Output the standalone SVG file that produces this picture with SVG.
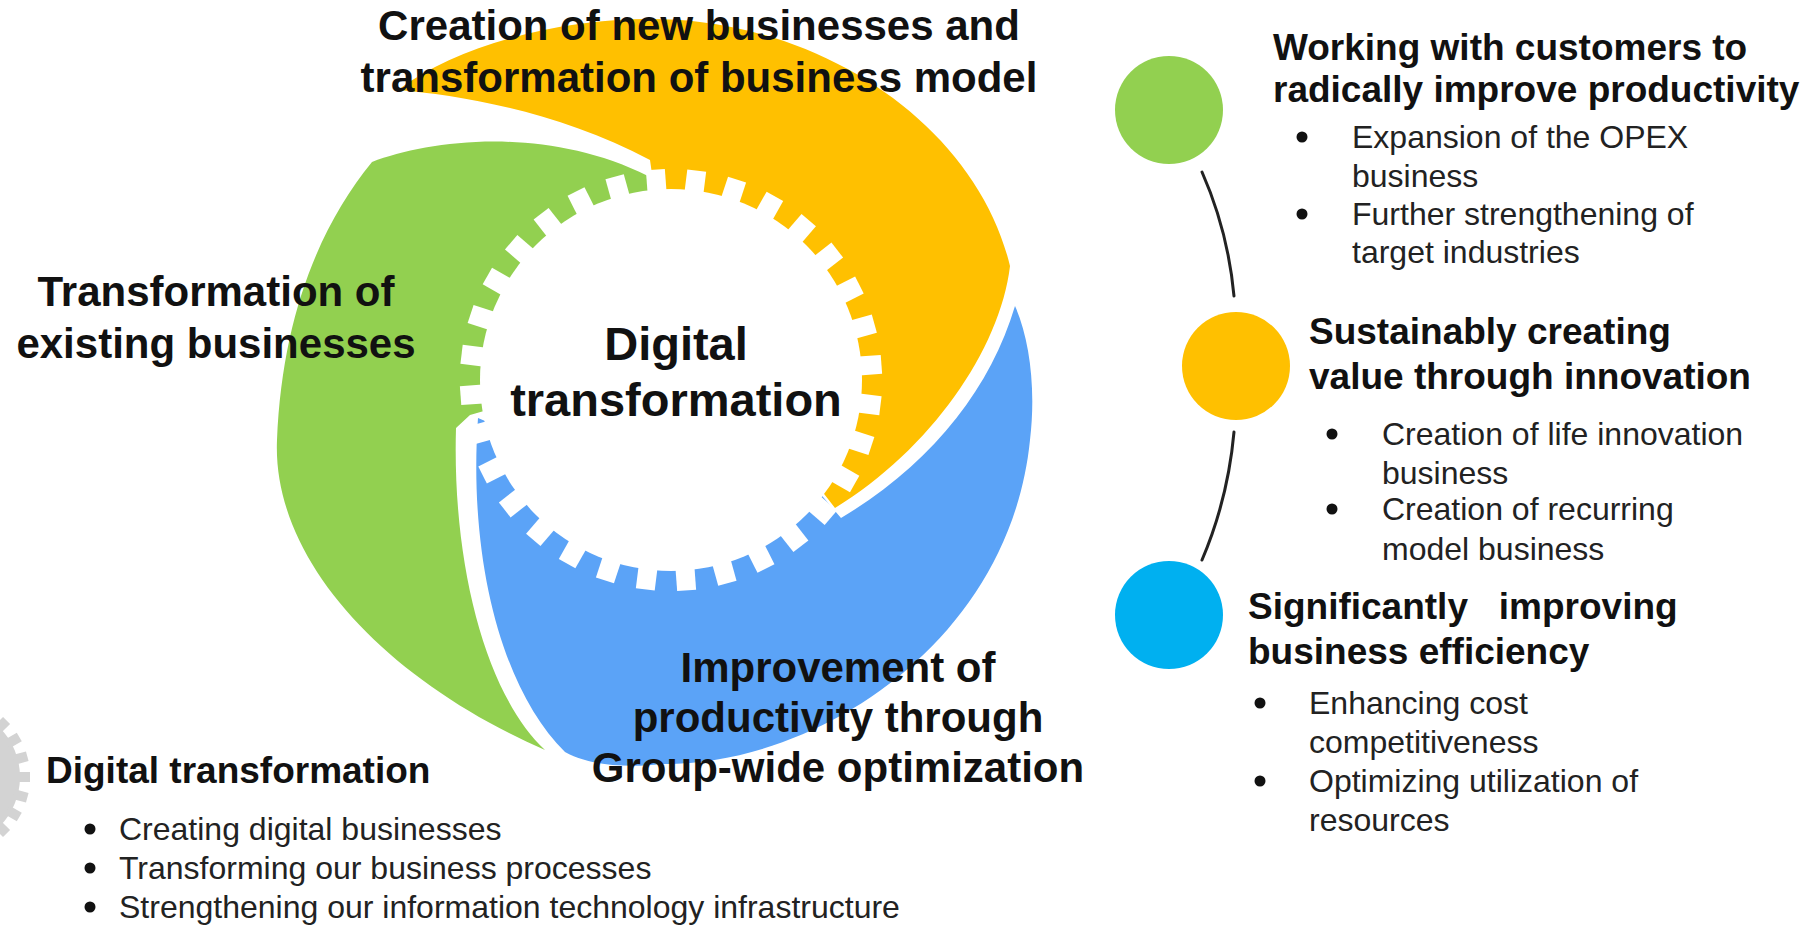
<svg xmlns="http://www.w3.org/2000/svg" xmlns:xlink="http://www.w3.org/1999/xlink" width="1812" height="925" viewBox="0 0 1812 925">
  <style>
    .h { font-family: "Liberation Sans", Arial, sans-serif; font-weight: bold; fill: #111; }
    .b { font-family: "Liberation Sans", Arial, sans-serif; font-weight: normal; fill: #222; font-size: 32px; }
    .dot { fill: #111; }
    .link { fill: none; stroke: #222; stroke-width: 3; stroke-linecap: round; }
  </style>
  <defs>
    <rect id="tooth" x="-9.5" y="-211" width="19" height="26" fill="#fff"/>
    <rect id="grayTooth" x="-5" y="-80" width="10" height="14" fill="#d3d3d3"/>
  </defs>
  <rect width="1812" height="925" fill="#fff"/>

  <!-- partial grey gear at the left edge -->
  <g id="edge-gear" transform="translate(-50,777)">
    <circle r="70" fill="#d3d3d3"/>
    <use xlink:href="#grayTooth" transform="rotate(30)"/>
    <use xlink:href="#grayTooth" transform="rotate(45)"/>
    <use xlink:href="#grayTooth" transform="rotate(60)"/>
    <use xlink:href="#grayTooth" transform="rotate(75)"/>
    <use xlink:href="#grayTooth" transform="rotate(90)"/>
    <use xlink:href="#grayTooth" transform="rotate(105)"/>
    <use xlink:href="#grayTooth" transform="rotate(120)"/>
    <use xlink:href="#grayTooth" transform="rotate(135)"/>
    <use xlink:href="#grayTooth" transform="rotate(150)"/>
  </g>

  <!-- swirl segments -->
  <g id="seg-existing">
    <path fill="#92D050" d="M372,162 C430,140 545,125 648,176 L660,250 L540,395 L470,415 L456,428 C452,565 486,695 545,750 C385,680 272,560 277,440 C282,320 318,228 372,162 Z"/>
  </g>
  <g id="seg-new">
    <path fill="#FFC000" d="M1010,266 C1000,350 930,450 835,508 L790,450 L700,300 L660,230 L650,160 C560,112 460,95 398,90 C470,36 600,10 700,22 C850,40 980,140 1010,266 Z"/>
  </g>
  <g id="seg-productivity">
    <path fill="#5BA3F7" d="M530,440 L478,418 C468,560 502,690 565,752 C590,766 630,768 662,764 C820,765 1010,640 1030,440 C1036,390 1030,340 1015,306 C990,390 930,465 841,518 L800,470 L560,440 Z"/>
  </g>

  <!-- central gear -->
  <g id="gear">
    <circle cx="671" cy="380" r="191" fill="#fff"/>
    <g transform="translate(671,380)">
      <use xlink:href="#tooth" transform="rotate(7)"/>
      <use xlink:href="#tooth" transform="rotate(18.25)"/>
      <use xlink:href="#tooth" transform="rotate(29.5)"/>
      <use xlink:href="#tooth" transform="rotate(40.75)"/>
      <use xlink:href="#tooth" transform="rotate(52)"/>
      <use xlink:href="#tooth" transform="rotate(63.25)"/>
      <use xlink:href="#tooth" transform="rotate(74.5)"/>
      <use xlink:href="#tooth" transform="rotate(85.75)"/>
      <use xlink:href="#tooth" transform="rotate(97)"/>
      <use xlink:href="#tooth" transform="rotate(108.25)"/>
      <use xlink:href="#tooth" transform="rotate(119.5)"/>
      <use xlink:href="#tooth" transform="rotate(130.75)"/>
      <use xlink:href="#tooth" transform="rotate(142)"/>
      <use xlink:href="#tooth" transform="rotate(153.25)"/>
      <use xlink:href="#tooth" transform="rotate(164.5)"/>
      <use xlink:href="#tooth" transform="rotate(175.75)"/>
      <use xlink:href="#tooth" transform="rotate(187)"/>
      <use xlink:href="#tooth" transform="rotate(198.25)"/>
      <use xlink:href="#tooth" transform="rotate(209.5)"/>
      <use xlink:href="#tooth" transform="rotate(220.75)"/>
      <use xlink:href="#tooth" transform="rotate(232)"/>
      <use xlink:href="#tooth" transform="rotate(243.25)"/>
      <use xlink:href="#tooth" transform="rotate(254.5)"/>
      <use xlink:href="#tooth" transform="rotate(265.75)"/>
      <use xlink:href="#tooth" transform="rotate(277)"/>
      <use xlink:href="#tooth" transform="rotate(288.25)"/>
      <use xlink:href="#tooth" transform="rotate(299.5)"/>
      <use xlink:href="#tooth" transform="rotate(310.75)"/>
      <use xlink:href="#tooth" transform="rotate(322)"/>
      <use xlink:href="#tooth" transform="rotate(333.25)"/>
      <use xlink:href="#tooth" transform="rotate(344.5)"/>
      <use xlink:href="#tooth" transform="rotate(355.75)"/>
    </g>
    <text class="h" font-size="47" text-anchor="middle" x="676" y="360">Digital</text>
    <text class="h" font-size="47" text-anchor="middle" x="676" y="416">transformation</text>
  </g>

  <!-- segment labels -->
  <g id="label-new">
    <text class="h" font-size="42" text-anchor="middle" x="699" y="40">Creation of new businesses and</text>
    <text class="h" font-size="42" text-anchor="middle" x="699" y="92">transformation of business model</text>
  </g>
  <g id="label-existing">
    <text class="h" font-size="42" text-anchor="middle" x="216" y="306">Transformation of</text>
    <text class="h" font-size="42" text-anchor="middle" x="216" y="358">existing businesses</text>
  </g>
  <g id="label-productivity">
    <text class="h" font-size="42" text-anchor="middle" x="838" y="682">Improvement of</text>
    <text class="h" font-size="42" text-anchor="middle" x="838" y="732">productivity through</text>
    <text class="h" font-size="42" text-anchor="middle" x="838" y="782">Group-wide optimization</text>
  </g>

  <!-- digital transformation list -->
  <g id="dx-list">
    <text class="h" font-size="37" x="46" y="783">Digital transformation</text>
    <circle class="dot" cx="90" cy="829" r="5.5"/>
    <text class="b" x="119" y="840">Creating digital businesses</text>
    <circle class="dot" cx="90" cy="868" r="5.5"/>
    <text class="b" x="119" y="879">Transforming our business processes</text>
    <circle class="dot" cx="90" cy="907" r="5.5"/>
    <text class="b" x="119" y="918">Strengthening our information technology infrastructure</text>
  </g>

  <!-- connectors between the three goal markers -->
  <g id="connectors">
    <path class="link" d="M1202,172 Q1228,231 1234,296"/>
    <path class="link" d="M1234,432 Q1228,499 1202,560"/>
  </g>

  <!-- goal 1 -->
  <g id="goal-productivity">
    <circle cx="1169" cy="110" r="54" fill="#92D050"/>
    <text class="h" font-size="37" x="1273" y="60">Working with customers to</text>
    <text class="h" font-size="37" x="1273" y="102">radically improve productivity</text>
    <circle class="dot" cx="1302" cy="137" r="5.5"/>
    <text class="b" x="1352" y="148">Expansion of the OPEX</text>
    <text class="b" x="1352" y="187">business</text>
    <circle class="dot" cx="1302" cy="214" r="5.5"/>
    <text class="b" x="1352" y="225">Further strengthening of</text>
    <text class="b" x="1352" y="263">target industries</text>
  </g>

  <!-- goal 2 -->
  <g id="goal-innovation">
    <circle cx="1236" cy="366" r="54" fill="#FFC000"/>
    <text class="h" font-size="37" x="1309" y="344">Sustainably creating</text>
    <text class="h" font-size="37" x="1309" y="389">value through innovation</text>
    <circle class="dot" cx="1332" cy="434" r="5.5"/>
    <text class="b" x="1382" y="445">Creation of life innovation</text>
    <text class="b" x="1382" y="484">business</text>
    <circle class="dot" cx="1332" cy="509" r="5.5"/>
    <text class="b" x="1382" y="520">Creation of recurring</text>
    <text class="b" x="1382" y="560">model business</text>
  </g>

  <!-- goal 3 -->
  <g id="goal-efficiency">
    <circle cx="1169" cy="615" r="54" fill="#00B0F0"/>
    <text class="h" font-size="37" x="1248" y="619" xml:space="preserve" style="white-space:pre">Significantly   improving</text>
    <text class="h" font-size="37" x="1248" y="664">business efficiency</text>
    <circle class="dot" cx="1260" cy="703" r="5.5"/>
    <text class="b" x="1309" y="714">Enhancing cost</text>
    <text class="b" x="1309" y="753">competitiveness</text>
    <circle class="dot" cx="1260" cy="781" r="5.5"/>
    <text class="b" x="1309" y="792">Optimizing utilization of</text>
    <text class="b" x="1309" y="831">resources</text>
  </g>
</svg>
